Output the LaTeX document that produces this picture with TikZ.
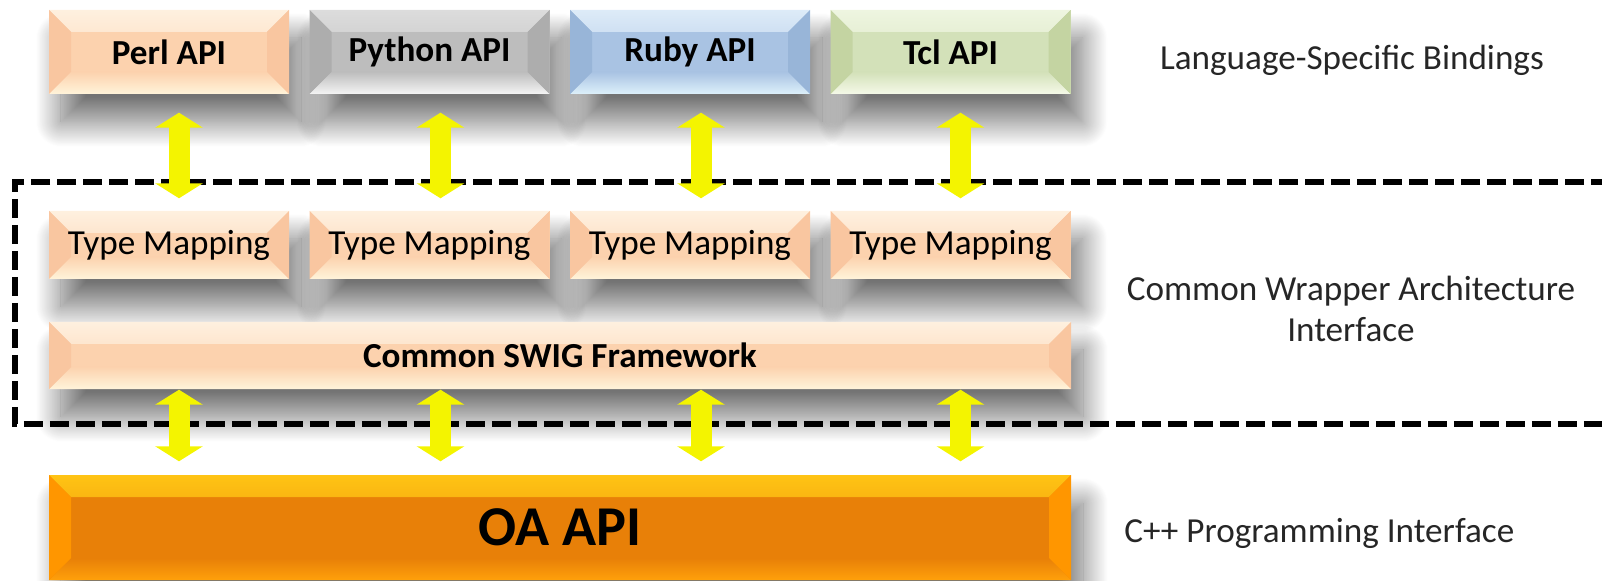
\documentclass[tikz,border=0pt]{standalone}
\usepackage{fontspec}
\setmainfont{Carlito}
\usetikzlibrary{arrows.meta, shadows.blur}

% Box colours: base, top edge, bottom edge, sides
\definecolor{peachB}{HTML}{FCD2AE}
\definecolor{peachT}{HTML}{FEF0DF}
\definecolor{peachL}{HTML}{FFF4DA}
\definecolor{peachS}{HTML}{F9C6A0}
\definecolor{grayB}{HTML}{BDBDBD}
\definecolor{grayT}{HTML}{DCDCDC}
\definecolor{grayL}{HTML}{F4F4F4}
\definecolor{grayS}{HTML}{ADADAD}
\definecolor{blueB}{HTML}{A9C3E3}
\definecolor{blueT}{HTML}{DDEBF8}
\definecolor{blueL}{HTML}{DDF0FA}
\definecolor{blueS}{HTML}{98B5D8}
\definecolor{greenB}{HTML}{D3E1B9}
\definecolor{greenT}{HTML}{EEF5E0}
\definecolor{greenL}{HTML}{F5F9E8}
\definecolor{greenS}{HTML}{C4D4A2}
\definecolor{oaB}{RGB}{232,128,8}
\definecolor{oaT}{RGB}{255,196,20}
\definecolor{oaL}{RGB}{255,160,10}
\definecolor{oaS}{RGB}{255,150,0}
\definecolor{arrowyellow}{RGB}{244,244,0}
\definecolor{labelgray}{HTML}{262626}

\newcommand{\bv}{0.22}

\begin{document}
\begin{tikzpicture}[
    % GLOBAL CFG
    font=\fontsize{10}{11.5}\selectfont,
    % Styles
    box/.style={% For the raised boxes
        rectangle,
        inner sep=0pt,
        minimum width=2.4cm,
        minimum height=0.84cm,
        blur shadow={shadow xshift=0.12cm, shadow yshift=-0.28cm,
            shadow blur radius=0.25cm, shadow blur steps=30, shadow opacity=55},
        },
    bevel/.style n args={4}{% base, top edge, bottom edge and side colours
        fill=#1,
        path picture={
            \def\pb{path picture bounding box}
            \shade[top color=#2, bottom color=#1] (\pb.north west) -- (\pb.north east) -- ([shift={(-\bv,-\bv)}]\pb.north east) -- ([shift={(\bv,-\bv)}]\pb.north west) -- cycle;
            \shade[top color=#1, bottom color=#3] (\pb.south west) -- (\pb.south east) -- ([shift={(-\bv,\bv)}]\pb.south east) -- ([shift={(\bv,\bv)}]\pb.south west) -- cycle;
            \fill[#4] (\pb.north west) -- ([shift={(\bv,-\bv)}]\pb.north west) -- ([shift={(\bv,\bv)}]\pb.south west) -- (\pb.south west) -- cycle;
            \fill[#4] (\pb.north east) -- ([shift={(-\bv,-\bv)}]\pb.north east) -- ([shift={(-\bv,\bv)}]\pb.south east) -- (\pb.south east) -- cycle;
            },
        },
    api/.style={% Language bindings on top
        box,
        font=\fontsize{10}{11.5}\selectfont\bfseries,
        },
    mapping/.style={% Type mapping boxes
        box,
        minimum height=0.68cm,
        bevel={peachB}{peachT}{peachL}{peachS},
        },
    layer/.style={% For the wide layers
        box,
        minimum width=10.22cm,
        },
    mylabel/.style={% Texts on the right
        text=labelgray,
        align=center,
        },
    DblArrow/.style={% Yellow double arrows
        {Triangle[width=4.7mm,length=1.5mm]}-{Triangle[width=4.7mm,length=1.5mm]},
        line width=2.1mm,
        draw=arrowyellow,
        },
    ]
    \useasboundingbox (0,0) rectangle (16.02,5.80);

    % Draw the language APIs
    \node [api, bevel={peachB}{peachT}{peachL}{peachS}] (perl) at (1.69,5.28) {Perl API};
    \node [api, bevel={grayB}{grayT}{grayL}{grayS}] (python) at (4.295,5.28) {Python API};
    \node [api, bevel={blueB}{blueT}{blueL}{blueS}] (ruby) at (6.90,5.28) {Ruby API};
    \node [api, bevel={greenB}{greenT}{greenL}{greenS}] (tcl) at (9.505,5.28) {Tcl API};

    % Draw the type mappings named map#
    \node [mapping] (map1) at (1.69,3.35) {Type Mapping};
    \node [mapping] (map2) at (4.295,3.35) {Type Mapping};
    \node [mapping] (map3) at (6.90,3.35) {Type Mapping};
    \node [mapping] (map4) at (9.505,3.35) {Type Mapping};

    % Draw the framework and the OA layer
    \node [layer, minimum height=0.67cm, font=\fontsize{10}{11.5}\selectfont\bfseries,
        bevel={peachB}{peachT}{peachL}{peachS}] (swig) at (5.60,2.245) {Common SWIG Framework};
    \node [layer, minimum height=1.05cm, font=\fontsize{16}{18}\selectfont\bfseries,
        bevel={oaB}{oaT}{oaL}{oaS}] (oa) at (5.60,0.525) {OA API};

    % Right hand labels
    \node [mylabel] (lang) at (13.52,5.20) {Language-Specific Bindings};
    \node [mylabel] (wrap) at (13.51,2.71) {Common Wrapper Architecture\\Interface};
    \node [mylabel, anchor=west] (cpp) at (11.12,0.47) {C++ Programming Interface};

    % Wrapper frame, open to the right
    \draw [line width=1.5pt, dash pattern=on 1.9mm off 0.7mm]
        (16.1,3.98) -- (0.15,3.98) -- (0.15,1.56) -- (16.1,1.56);

    % Arrows between layers
    \draw [DblArrow, shorten <=1.8mm, shorten >=1.2mm] ([xshift=1mm]perl.south) -- ([xshift=1mm]map1.north);
    \draw [DblArrow, shorten <=1.8mm, shorten >=1.2mm] ([xshift=1.1mm]python.south) -- ([xshift=1.1mm]map2.north);
    \draw [DblArrow, shorten <=1.8mm, shorten >=1.2mm] ([xshift=1.1mm]ruby.south) -- ([xshift=1.1mm]map3.north);
    \draw [DblArrow, shorten <=1.8mm, shorten >=1.2mm] ([xshift=1mm]tcl.south) -- ([xshift=1mm]map4.north);

    \draw [DblArrow, shorten >=1.3mm] ([xshift=1mm]map1.south |- swig.south) -- ([xshift=1mm]map1.south |- oa.north);
    \draw [DblArrow, shorten >=1.3mm] ([xshift=1.1mm]map2.south |- swig.south) -- ([xshift=1.1mm]map2.south |- oa.north);
    \draw [DblArrow, shorten >=1.3mm] ([xshift=1.1mm]map3.south |- swig.south) -- ([xshift=1.1mm]map3.south |- oa.north);
    \draw [DblArrow, shorten >=1.3mm] ([xshift=1mm]map4.south |- swig.south) -- ([xshift=1mm]map4.south |- oa.north);

\end{tikzpicture}
\end{document}
